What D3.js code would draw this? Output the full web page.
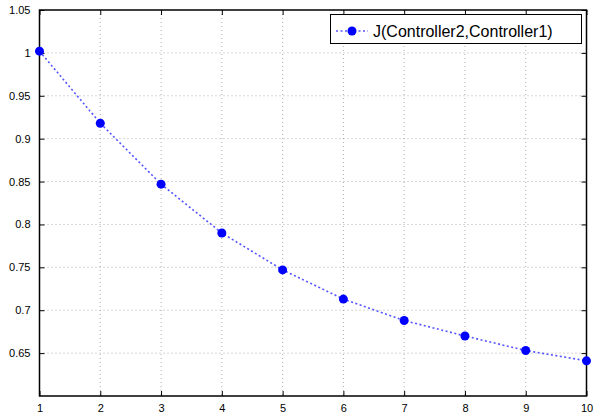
<!DOCTYPE html>
<html>
<head>
<meta charset="utf-8">
<script src="https://cdnjs.cloudflare.com/ajax/libs/d3/7.8.5/d3.min.js"></script>
<style>
  body { margin: 0; background: #fff; }
  text { font-family: "Liberation Sans", Arial, sans-serif; }
</style>
</head>
<body>
<svg id="chart" width="599" height="413"></svg>
<script>
// values
const xValues = [1, 2, 3, 4, 5, 6, 7, 8, 9, 10];
const jValues = [1.002, 0.918, 0.847, 0.790, 0.747, 0.713, 0.688, 0.670, 0.653, 0.641];
const xTicks = [1, 2, 3, 4, 5, 6, 7, 8, 9, 10];
const yTicks = [0.65, 0.7, 0.75, 0.8, 0.85, 0.9, 0.95, 1, 1.05];
const seriesName = "J(Controller2,Controller1)";

const svg = d3.select("#chart");
const plotLeft = 39.5, plotRight = 586.5, plotTop = 10, plotBottom = 396;

const x = d3.scaleLinear().domain([1, 10]).range([plotLeft, plotRight]);
const y = d3.scaleLinear().domain([0.6, 1.05]).range([plotBottom, plotTop]);

// grid
const grid = svg.append("g");
grid.selectAll("line.gx")
  .data(xTicks.slice(1, -1))
  .join("line")
  .attr("x1", d => x(d)).attr("x2", d => x(d))
  .attr("y1", plotTop).attr("y2", plotBottom)
  .attr("stroke", "#999").attr("stroke-width", 0.8)
  .attr("stroke-dasharray", "1,3");
grid.selectAll("line.gy")
  .data(yTicks.filter(d => d < 1.05))
  .join("line")
  .attr("x1", plotLeft).attr("x2", plotRight)
  .attr("y1", d => y(d)).attr("y2", d => y(d))
  .attr("stroke", "#999").attr("stroke-width", 0.8)
  .attr("stroke-dasharray", "1,3");

// axes
svg.append("g")
  .attr("transform", `translate(0,${plotBottom})`)
  .call(d3.axisBottom(x).tickValues(xTicks).tickSize(-5).tickPadding(8).tickFormat(d3.format("d")))
  .call(g => g.select(".domain").remove())
  .selectAll("text").attr("font-size", 11).attr("fill", "#000");

svg.append("g")
  .attr("transform", `translate(0,${plotTop})`)
  .call(d3.axisTop(x).tickValues(xTicks).tickSize(-5).tickFormat(""))
  .call(g => g.select(".domain").remove());

svg.append("g")
  .attr("transform", `translate(${plotLeft},0)`)
  .call(d3.axisLeft(y).tickValues(yTicks).tickSize(-5).tickPadding(9).tickFormat(d => String(+d.toFixed(2))))
  .call(g => g.select(".domain").remove())
  .selectAll("text").attr("font-size", 11).attr("fill", "#000");

svg.append("g")
  .attr("transform", `translate(${plotRight},0)`)
  .call(d3.axisRight(y).tickValues(yTicks).tickSize(-5).tickFormat(""))
  .call(g => g.select(".domain").remove());

svg.append("rect")
  .attr("x", plotLeft).attr("y", plotTop)
  .attr("width", plotRight - plotLeft).attr("height", plotBottom - plotTop)
  .attr("fill", "none").attr("stroke", "#000").attr("stroke-width", 1.5);

// series
const data = xValues.map((d, i) => ({ x: d, y: jValues[i] }));
const line = d3.line().x(d => x(d.x)).y(d => y(d.y));

svg.append("path")
  .datum(data)
  .attr("d", line)
  .attr("fill", "none")
  .attr("stroke", "#5555ff")
  .attr("stroke-width", 1.6)
  .attr("stroke-dasharray", "2,2.5");

svg.selectAll("circle.pt")
  .data(data)
  .join("circle")
  .attr("class", "pt")
  .attr("cx", d => x(d.x))
  .attr("cy", d => y(d.y))
  .attr("r", 4.5)
  .attr("fill", "#0000ff");

// legend
const lg = svg.append("g");
lg.append("rect")
  .attr("x", 330.5).attr("y", 14.5)
  .attr("width", 251).attr("height", 29)
  .attr("fill", "#fff").attr("stroke", "#000").attr("stroke-width", 1);
lg.append("line")
  .attr("x1", 336).attr("x2", 368).attr("y1", 31).attr("y2", 31)
  .attr("stroke", "#5555ff").attr("stroke-width", 1.6)
  .attr("stroke-dasharray", "2,2.5");
lg.append("circle")
  .attr("cx", 352).attr("cy", 31).attr("r", 4.5).attr("fill", "#0000ff");
lg.append("text")
  .attr("x", 373).attr("y", 37)
  .attr("font-size", 16)
  .text(seriesName);
</script>
</body>
</html>
